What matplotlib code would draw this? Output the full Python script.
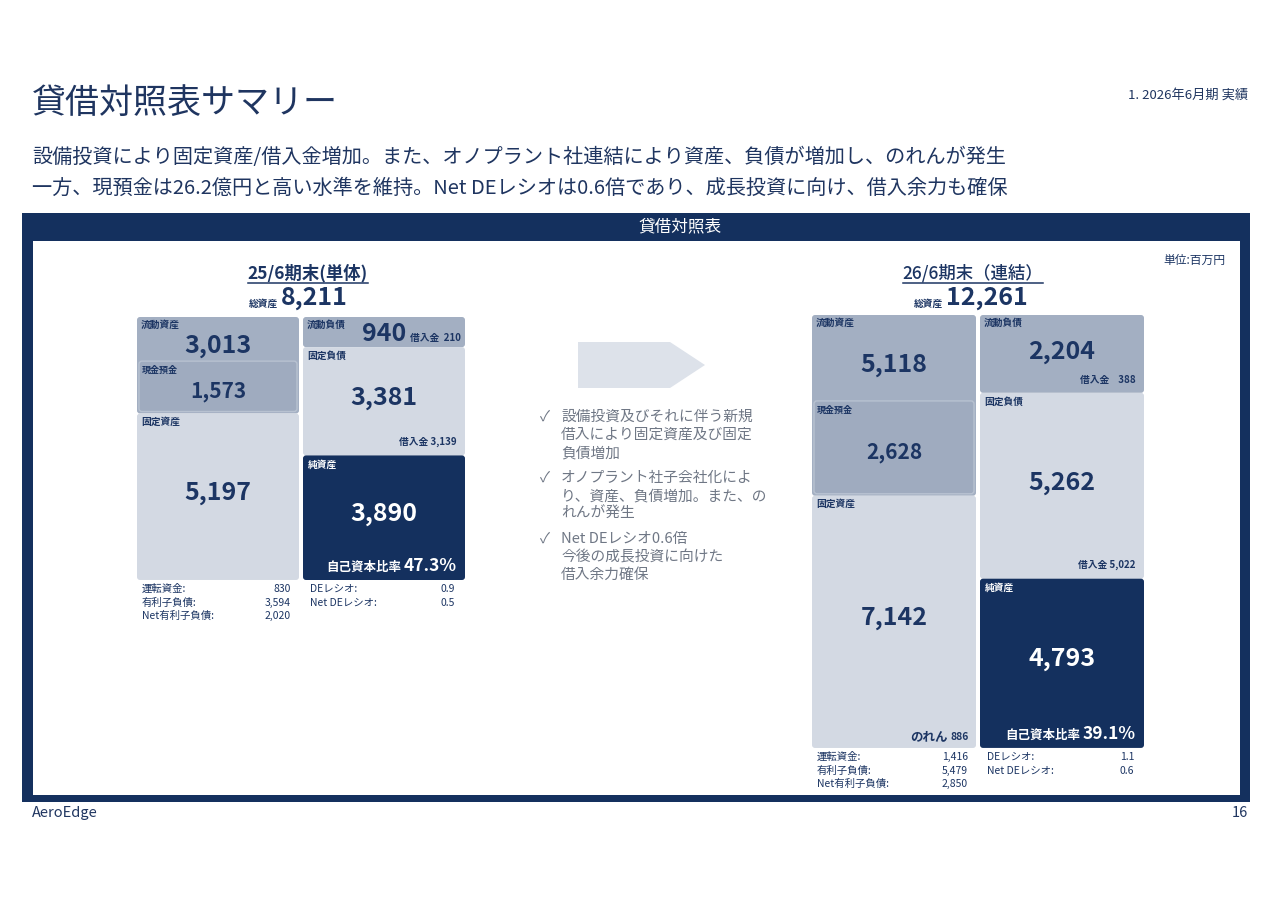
import matplotlib
matplotlib.use('Agg')
import matplotlib.pyplot as plt
from matplotlib.patches import Rectangle, FancyBboxPatch, Polygon

plt.rcParams['font.family'] = ['Noto Sans CJK JP', 'DejaVu Sans']

NAVY = '#14305e'
TEXT = '#1c3563'
MID = '#a3afc2'
LIGHT = '#d3d9e3'
GRAY = '#6f7785'

# data (百万円)
periods = ['25/6期末(単体)', '26/6期末（連結）']
total_assets = [8211, 12261]
current_assets = [3013, 5118]
cash = [1573, 2628]
fixed_assets = [5197, 7142]
goodwill = [None, 886]
current_liab = [940, 2204]
current_borrow = [210, 388]
fixed_liab = [3381, 5262]
fixed_borrow = [3139, 5022]
net_assets = [3890, 4793]
equity_ratio = [47.3, 39.1]
working_capital = [830, 1416]
interest_debt = [3594, 5479]
net_interest_debt = [2020, 2850]
de_ratio = [0.9, 1.1]
net_de_ratio = [0.5, 0.6]

bullets = [
    ['設備投資及びそれに伴う新規', '借入により固定資産及び固定', '負債増加'],
    ['オノプラント社子会社化によ', 'り、資産、負債増加。また、の', 'れんが発生'],
    ['Net DEレシオ0.6倍', '今後の成長投資に向けた', '借入余力確保'],
]

fig = plt.figure(figsize=(12.8, 9.05), dpi=100)
ax = fig.add_axes([0, 0, 1, 1])
ax.set_xlim(0, 1280)
ax.set_ylim(905, 0)
ax.axis('off')
renderer = fig.canvas.get_renderer()


def txt(x, y, s, size, color=TEXT, ha='left', weight='normal', **kw):
    return ax.text(x, y, s, fontsize=size, color=color, ha=ha, va='center',
                   fontweight=weight, **kw)


def right_edge_left(t):
    bb = t.get_window_extent(renderer)
    return bb.x0, bb.x1


def box(x, y, w, h, fc, ec='none', lw=0, r=3):
    ax.add_patch(FancyBboxPatch((x, y), w, h, boxstyle=f'round,pad=0,rounding_size={r}',
                                fc=fc, ec=ec, lw=lw))


# header
txt(32, 103, '貸借対照表サマリー', 24.5, color='#1f3560')
txt(1248, 95, '1. 2026年6月期 実績', 9.5, ha='right', color='#1f3560')
txt(32, 158, '設備投資により固定資産/借入金増加。また、オノプラント社連結により資産、負債が増加し、のれんが発生', 14.5, color='#1f3560')
txt(32, 188, '一方、現預金は26.2億円と高い水準を維持。Net DEレシオは0.6倍であり、成長投資に向け、借入余力も確保', 14.5, color='#1f3560')

# frame
ax.add_patch(Rectangle((22, 213), 1228, 589, fc=NAVY, ec='none'))
ax.add_patch(Rectangle((33, 241), 1207, 554, fc='white', ec='none'))
txt(638, 227, '貸借対照表', 12, color='white')
txt(1225, 260, '単位:百万円', 8.5, ha='right')

txt(32, 813, 'AeroEdge', 10.5, color='#1f3560')
txt(1248, 813, '16', 10.5, ha='right', color='#1f3560')

blocks = [
    dict(ax_x=137, lb_x=303, w=162, top=317, bottom=580, cx=308, title_w='bold'),
    dict(ax_x=812, lb_x=980, w=164, top=315, bottom=748, cx=973, title_w='medium'),
]

for i, b in enumerate(blocks):
    s = (b['bottom'] - b['top']) / total_assets[i]
    top, w = b['top'], b['w']

    # title + underline
    t = txt(b['cx'], 273, periods[i], 12.5, ha='center', weight=b['title_w'])
    x0, x1 = right_edge_left(t)
    ax.plot([x0, x1], [283, 283], color=TEXT, lw=1.1)
    txt(b['cx'] - 30, 304, '総資産', 7, ha='right', weight='bold')
    txt(b['cx'] - 27, 298, f'{total_assets[i]:,}', 18, weight='bold')

    # assets column
    xa = b['ax_x']
    h_cur = current_assets[i] * s
    h_fix = fixed_assets[i] * s
    box(xa, top, w, h_cur, MID)
    box(xa, top + h_cur, w, h_fix, LIGHT)
    h_cash = cash[i] * s
    cash_top = top + h_cur - h_cash - 2
    box(xa + 2, cash_top, w - 4, h_cash, '#9fabbf', ec='#b8c2d1', lw=1)
    txt(xa + 4, top + 8, '流動資産', 7, weight='bold')
    txt(xa + w / 2, (top + 14 + cash_top) / 2, f'{current_assets[i]:,}', 18, ha='center', weight='bold')
    txt(xa + 5, cash_top + 9, '現金預金', 6.5, weight='bold')
    txt(xa + w / 2, cash_top + h_cash / 2 + 5, f'{cash[i]:,}', 15, ha='center', weight='bold')
    ftop = top + h_cur
    txt(xa + 4, ftop + 8, '固定資産', 7, weight='bold')
    txt(xa + w / 2, ftop + h_fix / 2 - 4, f'{fixed_assets[i]:,}', 18, ha='center', weight='bold')
    if goodwill[i] is not None:
        g = txt(xa + w - 7, ftop + h_fix - 11, f'{goodwill[i]}', 7.5, ha='right', weight='bold')
        gx0, _ = right_edge_left(g)
        txt(gx0 - 3, ftop + h_fix - 11, 'のれん', 9, ha='right', weight='bold', style='italic')

    # liabilities column
    xl = b['lb_x']
    h_cl = current_liab[i] * s
    h_fl = fixed_liab[i] * s
    h_na = net_assets[i] * s
    box(xl, top, w, h_cl, MID)
    box(xl, top + h_cl, w, h_fl, LIGHT)
    box(xl, top + h_cl + h_fl, w, h_na, NAVY)
    txt(xl + 4, top + 8, '流動負債', 7, weight='bold')
    if h_cl < 40:
        v = txt(xl + w / 2, top + h_cl / 2 + 2, f'{current_liab[i]:,}', 18, ha='center', weight='bold')
        _, vx1 = right_edge_left(v)
        txt(vx1 + 4, top + h_cl / 2 + 6, f'借入金  {current_borrow[i]:,}', 7, weight='bold')
    else:
        txt(xl + w / 2, top + h_cl / 2 - 2, f'{current_liab[i]:,}', 18, ha='center', weight='bold')
        txt(xl + w - 8, top + h_cl - 13, f'借入金    {current_borrow[i]:,}', 7, ha='right', weight='bold')
    ftop = top + h_cl
    txt(xl + 4, ftop + 9, '固定負債', 7, weight='bold')
    txt(xl + w / 2, ftop + h_fl / 2 - 3, f'{fixed_liab[i]:,}', 18, ha='center', weight='bold')
    txt(xl + w - 8, ftop + h_fl - 14, f'借入金 {fixed_borrow[i]:,}', 7, ha='right', weight='bold')
    ntop = ftop + h_fl
    txt(xl + 5, ntop + 9, '純資産', 7, weight='bold', color='white')
    txt(xl + w / 2, ntop + h_na / 2 - 4, f'{net_assets[i]:,}', 18, ha='center', weight='bold', color='white')
    p = txt(xl + w - 8, b['bottom'] - 14, f'{equity_ratio[i]}%', 12.5, ha='right', weight='bold', color='white')
    px0, _ = right_edge_left(p)
    txt(px0 - 3, b['bottom'] - 13, '自己資本比率', 9, ha='right', weight='bold', color='white')

    # indicators under the boxes
    y0 = b['bottom'] + 9
    rows_l = [('運転資金:', f'{working_capital[i]:,}'), ('有利子負債:', f'{interest_debt[i]:,}'),
              ('Net有利子負債:', f'{net_interest_debt[i]:,}')]
    rows_r = [('DEレシオ:', f'{de_ratio[i]}'), ('Net DEレシオ:', f'{net_de_ratio[i]}')]
    for k, (lab, val) in enumerate(rows_l):
        txt(xa + 5, y0 + k * 13.5, lab, 7.5)
        txt(xa + w - 8, y0 + k * 13.5, val, 7.5, ha='right')
    for k, (lab, val) in enumerate(rows_r):
        txt(xl + 7, y0 + k * 13.5, lab, 7.5)
        txt(xl + w - 10, y0 + k * 13.5, val, 7.5, ha='right')

# arrow between the two periods
ax.add_patch(Polygon([(578, 342), (670, 342), (705, 365), (670, 388), (578, 388)],
                     closed=True, fc='#dde2ea', ec='none'))

y = 417
for lines in bullets:
    txt(540, y, '✓', 10.5, color=GRAY)
    for ln in lines:
        txt(561, y, ln, 10.6, color=GRAY)
        y += 18
    y += 7

fig.savefig('out.png', dpi=100)
